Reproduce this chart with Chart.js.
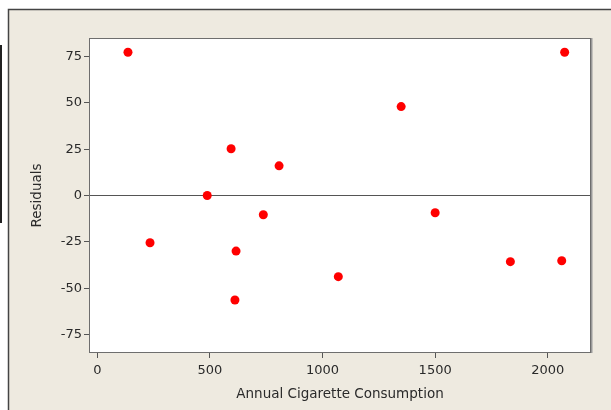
<!DOCTYPE html>
<html>
<head>
<meta charset="utf-8">
<script src="https://cdn.jsdelivr.net/npm/chart.js@4"></script>
<style>
html,body{margin:0;padding:0;background:#fff;}
#wrap{position:relative;width:611px;height:410px;}
</style>
</head>
<body>
<div id="wrap"><canvas id="c" width="611" height="410"></canvas></div>
<script>
const consumption = [136, 488, 594, 807, 1349, 2075, 234, 737, 616, 611, 1070, 1500, 1834, 2062];
const residuals   = [77.3, 0, 25.2, 16.0, 48.0, 77.3, -25.5, -10.4, -30.0, -56.4, -43.8, -9.3, -35.7, -35.2];
const xTicks = [0, 500, 1000, 1500, 2000];
const yTicks = [-75, -50, -25, 0, 25, 50, 75];
const xTitle = 'Annual Cigarette Consumption';
const yTitle = 'Residuals';

const bgPlugin = {
  id: 'bg',
  beforeDraw(chart) {
    const ctx = chart.ctx, a = chart.chartArea;
    ctx.save();
    ctx.fillStyle = '#ffffff';
    ctx.fillRect(0, 0, chart.width, chart.height);
    ctx.fillStyle = '#EEEAE0';
    ctx.fillRect(9, 10, chart.width - 9, chart.height - 10);
    ctx.strokeStyle = '#444';
    ctx.lineWidth = 1.5;
    ctx.beginPath();
    ctx.moveTo(8.5, chart.height); ctx.lineTo(8.5, 9.5); ctx.lineTo(chart.width, 9.5);
    ctx.stroke();
    ctx.fillStyle = '#222';
    ctx.fillRect(0, 45, 2, 178);
    ctx.fillStyle = '#ffffff';
    ctx.fillRect(a.left, a.top, a.right - a.left, a.bottom - a.top);
    ctx.restore();
  },
  beforeDatasetsDraw(chart) {
    const ctx = chart.ctx, a = chart.chartArea;
    ctx.save();
    ctx.strokeStyle = '#999';
    ctx.lineWidth = 2;
    ctx.beginPath();
    ctx.moveTo(a.right + 0.5, a.top); ctx.lineTo(a.right + 0.5, a.bottom);
    ctx.stroke();
    ctx.strokeStyle = '#6e6e6e';
    ctx.lineWidth = 1;
    ctx.strokeRect(a.left + 0.5, a.top + 0.5, a.right - a.left - 1, a.bottom - a.top - 1);
    ctx.restore();
  }
};

const tickFont = { family: 'DejaVu Sans', size: 13 };
const titleFont = { family: 'DejaVu Sans', size: 13.5 };

new Chart(document.getElementById('c'), {
  type: 'scatter',
  data: {
    datasets: [{
      data: consumption.map((x, i) => ({ x: x, y: residuals[i] })),
      backgroundColor: '#FF0000',
      borderWidth: 0,
      pointRadius: 4.5,
      pointHoverRadius: 4.5
    }]
  },
  options: {
    responsive: false,
    animation: false,
    events: [],
    layout: { padding: { left: 0, top: 38, right: 20, bottom: 0 } },
    plugins: { legend: { display: false }, tooltip: { enabled: false } },
    scales: {
      x: {
        type: 'linear',
        min: -37, max: 2192,
        afterBuildTicks(s) { s.ticks = xTicks.map(v => ({ value: v })); },
        afterFit(s) { s.height = 57; },
        border: { display: false },
        grid: { drawOnChartArea: false, tickLength: 5, color: '#555', tickColor: '#555' },
        ticks: { font: tickFont, color: '#2a2a2a', padding: 5, maxRotation: 0, autoSkip: false, callback: v => String(v) },
        title: { display: true, text: xTitle, font: titleFont, color: '#2a2a2a', padding: { top: 0, bottom: 7 } }
      },
      y: {
        type: 'linear',
        min: -85, max: 85,
        afterBuildTicks(s) { s.ticks = yTicks.map(v => ({ value: v })); },
        afterFit(s) { s.width = 89; },
        border: { display: false },
        grid: {
          drawOnChartArea: true, tickLength: 5,
          color: c => (c.tick && c.tick.value === 0) ? '#555' : 'rgba(0,0,0,0)',
          tickColor: '#555'
        },
        ticks: { font: tickFont, color: '#2a2a2a', padding: 2, autoSkip: false, callback: v => String(v) },
        title: { display: true, text: yTitle, font: titleFont, color: '#2a2a2a', padding: { top: 29, bottom: 0 } }
      }
    }
  },
  plugins: [bgPlugin]
});
</script>
</body>
</html>
